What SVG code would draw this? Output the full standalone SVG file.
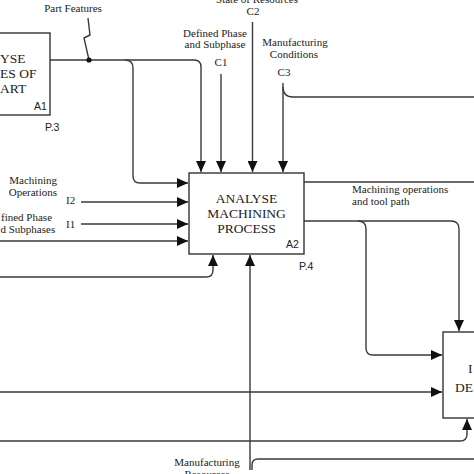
<svg xmlns="http://www.w3.org/2000/svg" width="474" height="474" viewBox="0 0 474 474">
<style>
.box{fill:#fff;stroke:#333;stroke-width:1.4}
.ln{fill:none;stroke:#3a3a3a;stroke-width:1.4}
.t{font-family:"Liberation Serif","Times New Roman",serif;font-size:11px;fill:#222}
.bt{font-family:"Liberation Serif","Times New Roman",serif;font-size:13.5px;fill:#222;text-anchor:middle}
.bs{text-anchor:start}
.s{font-family:"Liberation Sans",Arial,sans-serif;font-size:10.5px;fill:#222}
.m{text-anchor:middle}
.e{text-anchor:end}
</style>
<defs>
<marker id="ah" markerUnits="userSpaceOnUse" markerWidth="12" markerHeight="10" refX="11" refY="5" orient="auto">
<path d="M0,0 L11,5 L0,10 Z" fill="#111"/>
</marker>
</defs>
<rect width="474" height="474" fill="#fff"/>
<g id="connectors">
<path class="ln" d="M50,60 H194 Q201,60 201,67 V172" marker-end="url(#ah)"/>
<path class="ln" d="M125,60 Q133,60 133,68 V176 Q133,183 140,183 H188" marker-end="url(#ah)"/>
<path class="ln" d="M88,18 L90,35 L84,38 L89,60"/>
<circle cx="89" cy="60" r="2.6" fill="#111"/>
<path class="ln" d="M221,74 V172" marker-end="url(#ah)"/>
<path class="ln" d="M252.5,22 V172" marker-end="url(#ah)"/>
<path class="ln" d="M283,83 V172" marker-end="url(#ah)"/>
<path class="ln" d="M283,87 Q283,97 293,97 H474"/>
<path class="ln" d="M81,202 H188" marker-end="url(#ah)"/>
<path class="ln" d="M81,224 H188" marker-end="url(#ah)"/>
<path class="ln" d="M0,241 H188" marker-end="url(#ah)"/>
<path class="ln" d="M0,277 H206 Q213,277 213,270 V255" marker-end="url(#ah)"/>
<path class="ln" d="M250,470 V255" marker-end="url(#ah)"/>
<path class="ln" d="M252,470 V465 Q252,459 258,459 H474"/>
<path class="ln" d="M304,182 H474"/>
<path class="ln" d="M304,221 H451 Q459,221 459,229 V331" marker-end="url(#ah)"/>
<path class="ln" d="M358,221 Q366,221 366,229 V348 Q366,355 373,355 H442" marker-end="url(#ah)"/>
<path class="ln" d="M0,392 H442" marker-end="url(#ah)"/>
<path class="ln" d="M0,441 H460 Q467,441 467,434 V419" marker-end="url(#ah)"/>
</g>
<g id="A1">
<rect class="box" x="-20" y="33" width="70" height="82"/>
<text class="bt bs" x="0" y="63">YSE</text>
<text class="bt bs" x="0" y="78">ES OF</text>
<text class="bt bs" x="0" y="93">ART</text>
<text class="s" x="34" y="110">A1</text>
<text class="s" x="45" y="131">P.3</text>
</g>
<g id="A2">
<rect class="box" x="189" y="173" width="115" height="81"/>
<text class="bt" x="246.5" y="203">ANALYSE</text>
<text class="bt" x="246.5" y="218">MACHINING</text>
<text class="bt" x="246.5" y="233">PROCESS</text>
<text class="s" x="286" y="248">A2</text>
<text class="s" x="299" y="270">P.4</text>
</g>
<g id="A3">
<rect class="box" x="443" y="332" width="40" height="86"/>
<text class="bt bs" x="468" y="373">I</text>
<text class="bt bs" x="455" y="392">DE</text>
</g>
<g id="labels">
<text class="t m" x="73" y="12">Part Features</text>
<text class="t m" x="257" y="3">State of Resources</text>
<text class="t m" x="253" y="15">C2</text>
<text class="t m" x="215" y="37">Defined Phase</text>
<text class="t m" x="215" y="48">and Subphase</text>
<text class="t m" x="221" y="66">C1</text>
<text class="t m" x="295" y="46">Manufacturing</text>
<text class="t m" x="294" y="58">Conditions</text>
<text class="t m" x="284" y="76">C3</text>
<text class="t e" x="57" y="184">Machining</text>
<text class="t e" x="57" y="196">Operations</text>
<text class="t" x="66" y="204">I2</text>
<text class="t bs" x="1" y="221">fined Phase</text>
<text class="t bs" x="0.5" y="233">d Subphases</text>
<text class="t" x="66" y="228">I1</text>
<text class="t" x="352" y="193">Machining operations</text>
<text class="t" x="352" y="205">and tool path</text>
<text class="t m" x="207" y="466">Manufacturing</text>
<text class="t m" x="207" y="478">Resources</text>
</g>
</svg>
